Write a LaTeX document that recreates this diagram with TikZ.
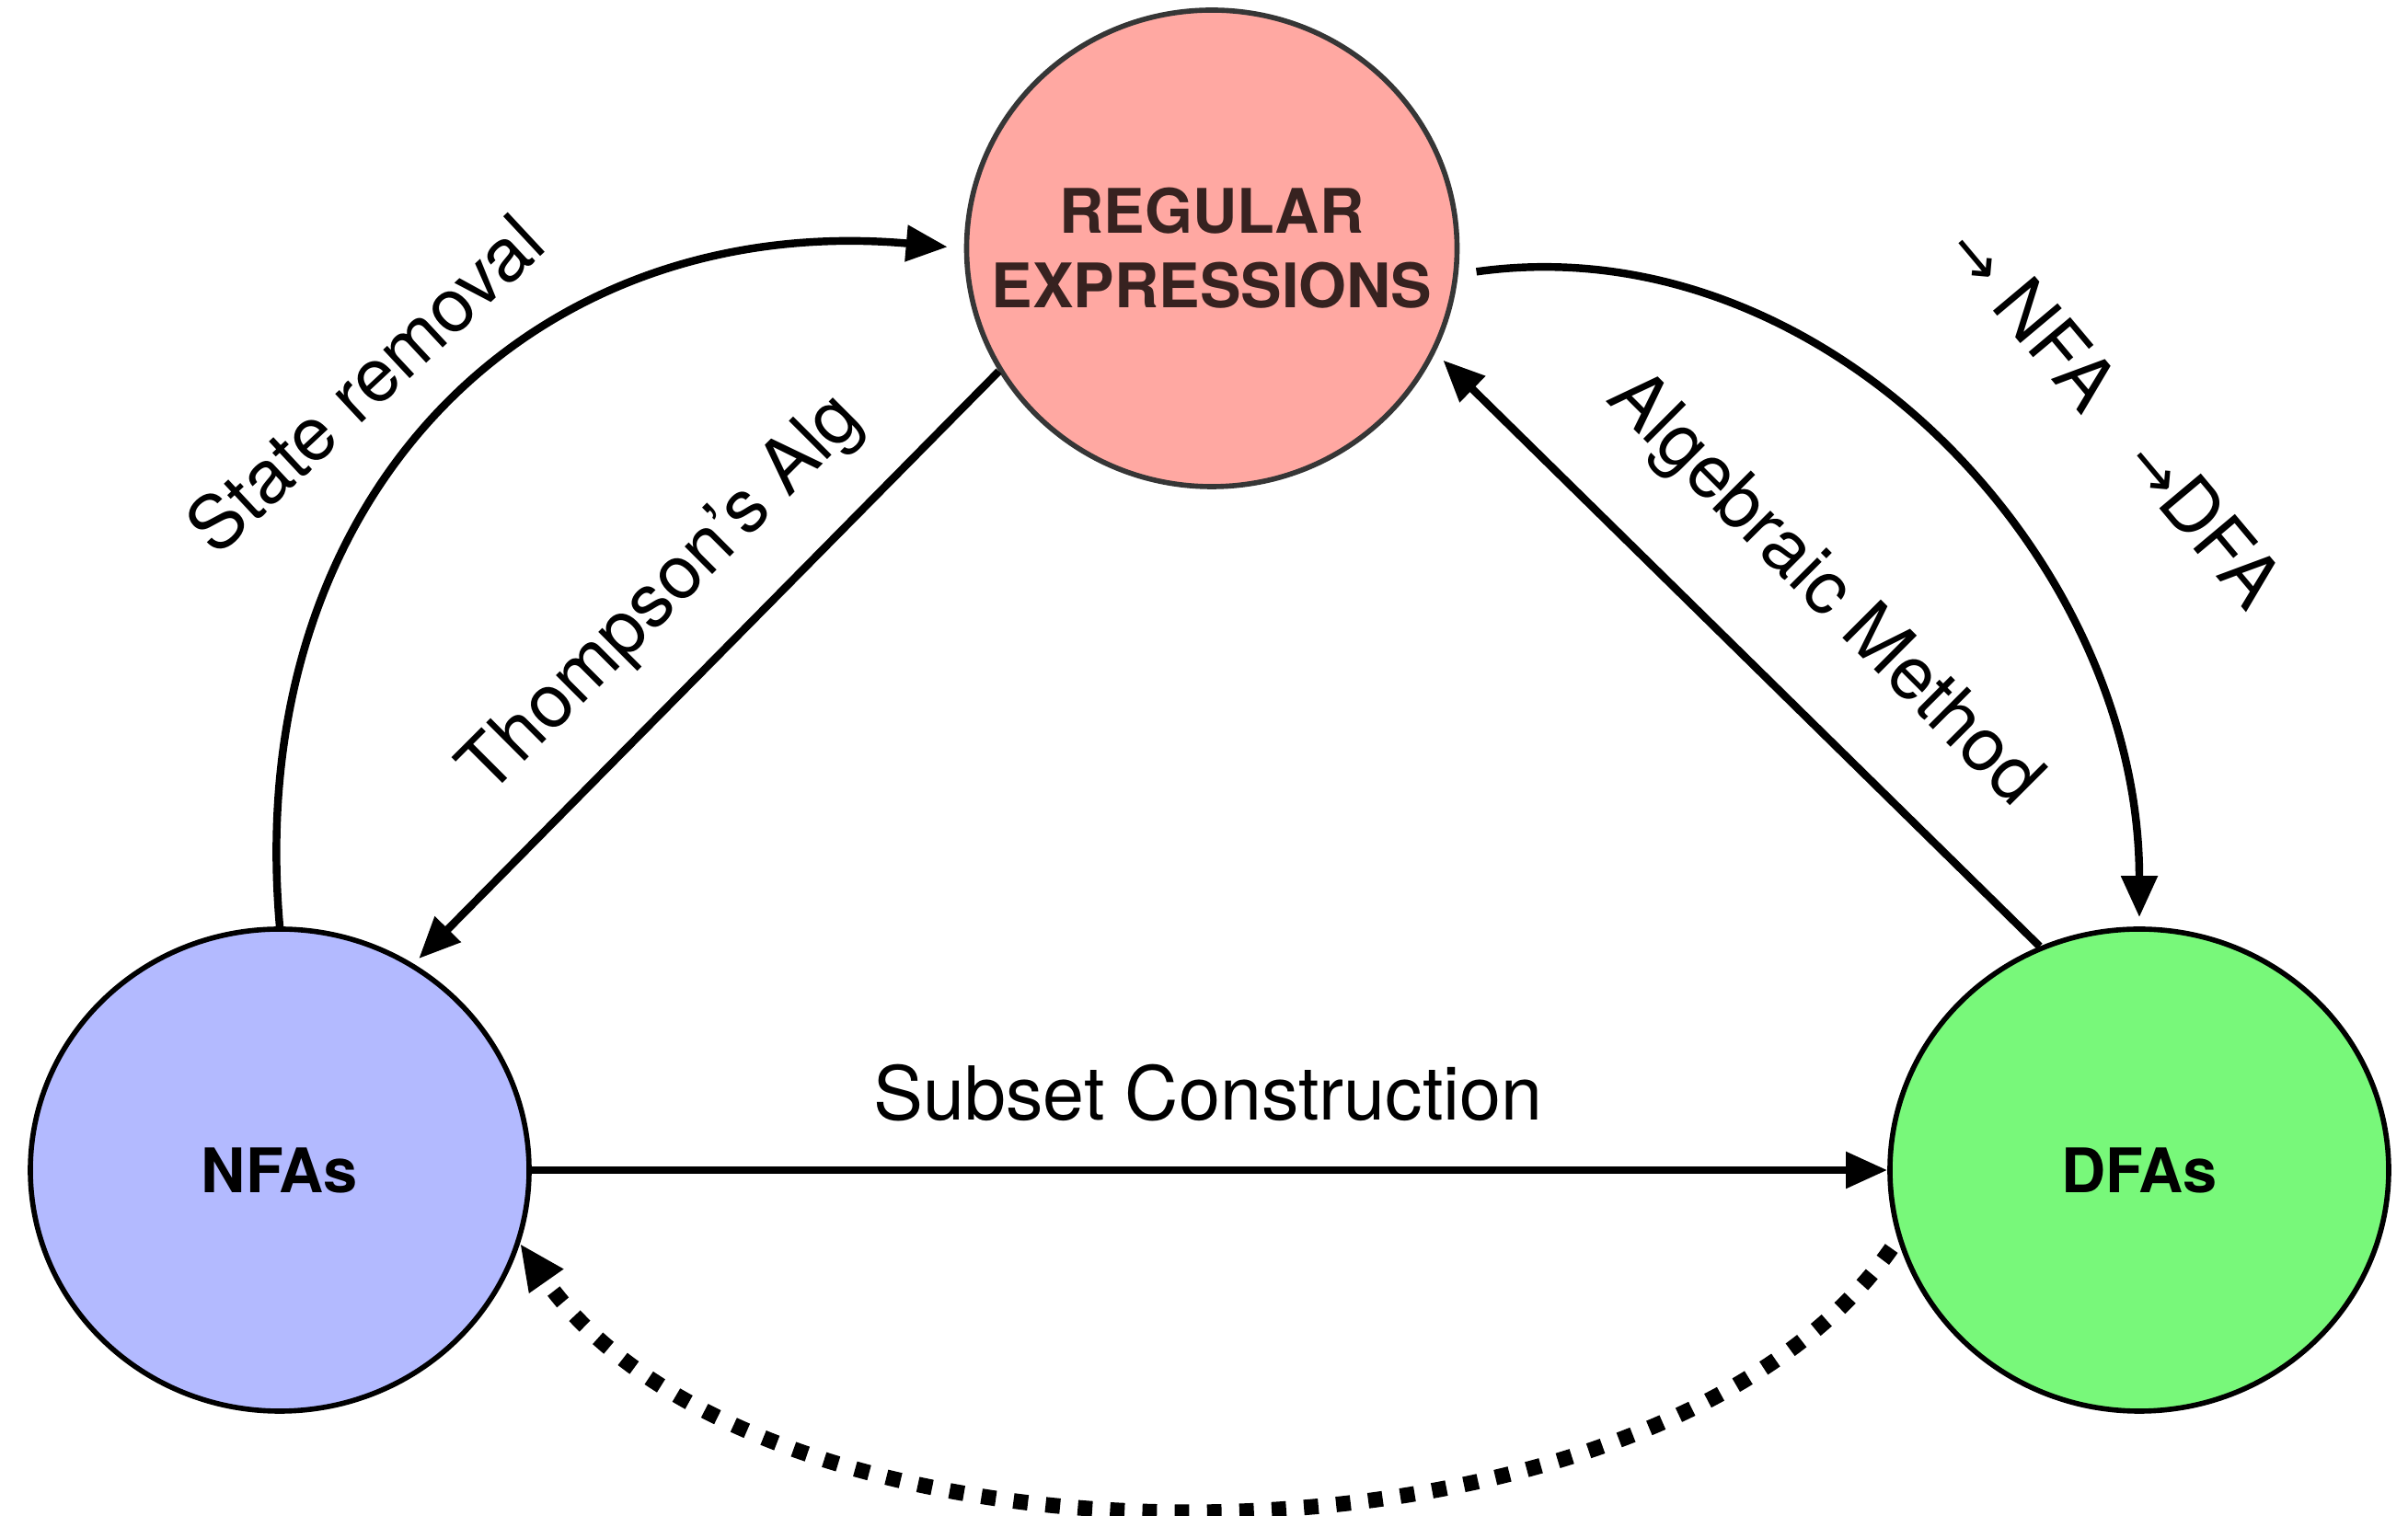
\documentclass[tikz,border=0pt]{standalone}
\usepackage{fontspec}
\setmainfont{TeX Gyre Heros}
\newfontfamily\arrowfont{DejaVu Sans}
\usetikzlibrary{arrows.meta,shapes.geometric}

\definecolor{regexfill}{RGB}{255,168,162}
\definecolor{regexline}{RGB}{54,54,54}
\definecolor{regextext}{RGB}{55,34,32}
\definecolor{nfafill}{RGB}{179,186,255}
\definecolor{dfafill}{RGB}{120,248,122}

\newcommand{\smallarr}{{\arrowfont\fontsize{19}{19}\selectfont →}}

\begin{document}
\begin{tikzpicture}[
  state/.style={draw, ellipse, line width=1.6pt, inner xsep=-0.7cm, inner ysep=0pt,
    minimum width=5.42cm, minimum height=5.24cm, align=center,
    font=\bfseries\fontsize{19}{23}\selectfont},
  edge/.style={line width=2.4pt, -{Triangle[length=0.45cm,width=0.38cm]}},
  lbl/.style={font=\fontsize{23}{27}\selectfont}]
\useasboundingbox (0,0) rectangle (26.17,16.48);

\node[state, fill=regexfill, draw=regexline, text=regextext,
  minimum width=5.33cm, minimum height=5.18cm] (regex) at (13.17,13.78)
  {REGULAR\\EXPRESSIONS};
\node[state, fill=nfafill] (nfa) at (3.04,3.76) {NFAs};
\node[state, fill=dfafill] (dfa) at (23.25,3.76) {DFAs};

\draw[edge, shorten >=0.08cm] (regex.210) -- (nfa.57);
\draw[edge, shorten >=0.12cm] (dfa.114) -- (regex.-25);
\draw[edge] (nfa) -- (dfa);
\draw[edge, shorten >=0.18cm] (nfa.north) to[out=95, in=175, looseness=1.15] (regex.west);
\draw[edge, shorten <=0.2cm, shorten >=0.1cm] (regex.-6) to[out=8, in=90] (dfa.north);
% back from DFAs to NFAs
\draw[line width=4.8pt, dash pattern=on 4.5pt off 5.5pt, shorten <=0.12cm,
  -{Triangle[length=0.5cm,width=0.42cm]}]
  (dfa.196) to[out=235, in=-55, looseness=0.8] (nfa.-17);

\node[lbl, rotate=43] (lstate) at (3.96,12.31) {State removal};
\node[lbl, rotate=45] (lthompson) at (7.21,10.00) {Thompson’s Alg};
\node[lbl, rotate=-45] (lalgebraic) at (19.81,10.05) {Algebraic Method};
\node[lbl, rotate=-50] (lchain) at (23.00,11.97)
  {\smallarr\ NFA \ \ \smallarr DFA};
\node[lbl] (lsubset) at (13.13,4.60) {Subset Construction};
\end{tikzpicture}
\end{document}
